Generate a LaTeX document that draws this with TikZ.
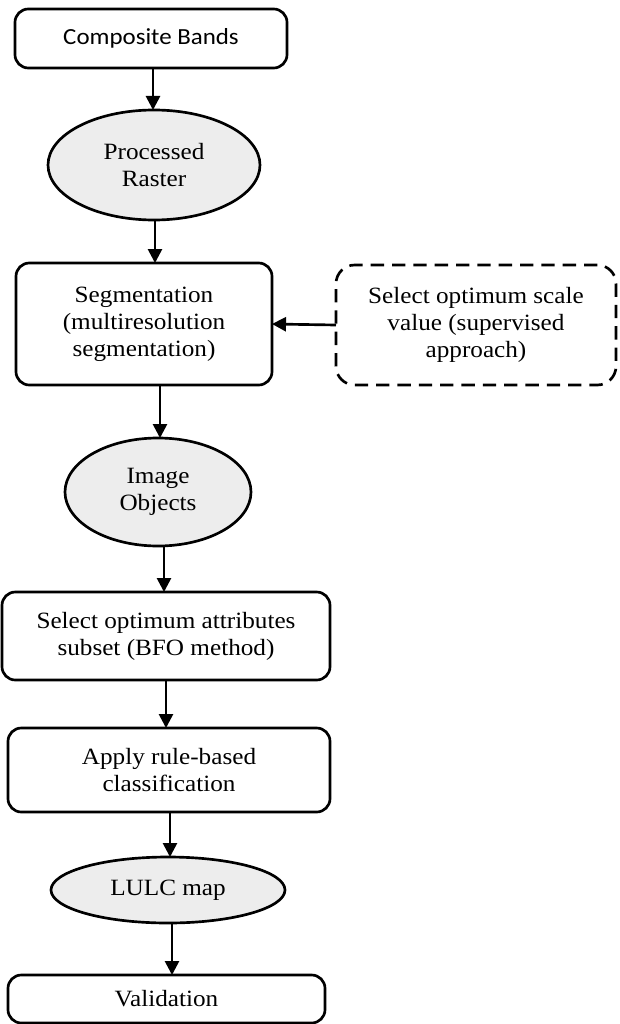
\documentclass[tikz,border=0pt]{standalone}
\usepackage{fontspec}
\setmainfont{Liberation Serif}[FakeStretch=1.08]
\newfontfamily\calfont{Carlito}[FakeStretch=1.08]
\usetikzlibrary{shapes.geometric,arrows.meta}
\begin{document}
\begin{tikzpicture}[x=0.75pt,y=-0.75pt,
  every node/.style={inner sep=0pt,outer sep=0pt,align=center,line width=2pt,
    font=\fontsize{17.5}{20.3}\selectfont},
  procbox/.style={draw,rounded corners=10pt},
  databox/.style={draw,ellipse,fill=black!7},
  dashbox/.style={draw,rounded corners=14pt,dash pattern=on 10pt off 6pt},
  arr/.style={line width=2pt,-{Triangle[length=10.5pt,width=10.5pt]}}]
\useasboundingbox (0,0) rectangle (620,1024);
\node[procbox,minimum width=204pt,minimum height=44.25pt,font=\calfont\fontsize{17.3}{20}\selectfont] (cb) at (151,38.5) {Composite Bands};
\node[databox,minimum width=159pt,minimum height=82.5pt] (pr) at (154,165) {Processed\\Raster};
\node[procbox,minimum width=192pt,minimum height=91.5pt] (seg) at (144,324) {Segmentation\\(multiresolution\\segmentation)};
\node[dashbox,minimum width=210pt,minimum height=90pt] (sel) at (476,325) {Select optimum scale\\value (supervised\\approach)};
\node[databox,minimum width=139.5pt,minimum height=81pt] (io) at (158,492) {Image\\Objects};
\node[procbox,minimum width=246pt,minimum height=66pt] (attr) at (166,636) {Select optimum attributes\\subset (BFO method)};
\node[procbox,minimum width=241.5pt,minimum height=63pt] (apply) at (169,770) {Apply rule-based\\classification};
\node[databox,minimum width=175.5pt,minimum height=49.5pt] (lulc) at (168,890) {LULC map};
\node[procbox,minimum width=237.75pt,minimum height=36pt] (val) at (166.5,999) {Validation};
\coordinate (x1) at (153,0);
\coordinate (x2) at (155,0);
\coordinate (x3) at (160,0);
\coordinate (x4) at (164,0);
\coordinate (x5) at (166,0);
\coordinate (x6) at (170,0);
\coordinate (x7) at (172,0);
\draw[arr] (cb.south -| x1) -- (pr.north -| x1);
\draw[arr] (pr.south -| x2) -- (seg.north -| x2);
\draw[arr] (seg.south -| x3) -- (io.north -| x3);
\draw[arr] (io.south -| x4) -- (attr.north -| x4);
\draw[arr] (attr.south -| x5) -- (apply.north -| x5);
\draw[arr] (apply.south -| x6) -- (lulc.north -| x6);
\draw[arr] (lulc.south -| x7) -- (val.north -| x7);
\draw[arr] (sel.west) -- (seg.east);
\end{tikzpicture}
\end{document}
